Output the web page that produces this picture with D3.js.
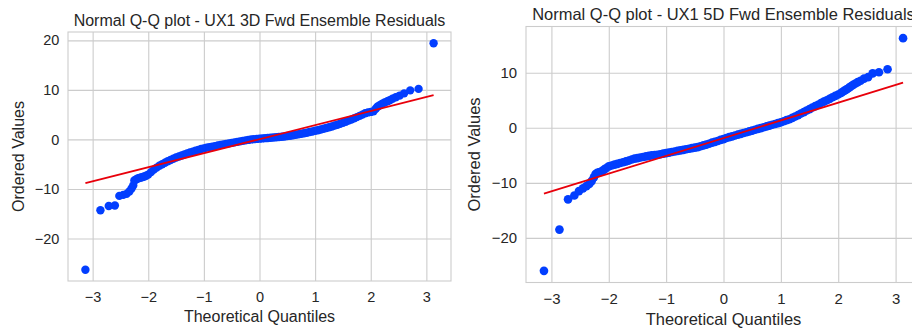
<!DOCTYPE html>
<html>
<head>
<meta charset="utf-8">
<script src="https://cdn.jsdelivr.net/npm/d3@7"></script>
<style>
  body { margin: 0; background: #fff; }
  svg { display: block; }
</style>
</head>
<body>
<svg id="chart"></svg>
<script>
// values: [theoretical quantile, ordered value]
const points3d = [
  [-3.13,-26.3],[-2.86,-14.3],[-2.71,-13.45],[-2.60,-13.35],[-2.52,-11.4],[-2.45,-11.2],
  [-2.39,-11.0],[-2.34,-10.5],[-2.30,-9.9],[-2.27,-9.3],[-2.25,-8.3],[-2.22,-8.1],
  [-2.19,-7.9],[-2.16,-7.8],[-2.13,-7.7],[-2.10,-7.6],[-2.07,-7.5],[-2.04,-7.35],
  [-2.00,-7.1],[-1.95,-6.6],[-1.90,-6.1],[-1.85,-5.7],[-1.80,-5.3],[-1.75,-5.0],
  [-1.70,-4.7],[-1.65,-4.4],[-1.60,-4.15],[-1.55,-3.9],[-1.50,-3.65],[-1.45,-3.45],
  [-1.40,-3.25],[-1.35,-3.05],[-1.30,-2.85],[-1.25,-2.65],[-1.20,-2.5],[-1.15,-2.3],
  [-1.10,-2.15],[-1.05,-1.95],[-1.00,-1.8],[-0.95,-1.65],[-0.90,-1.55],[-0.85,-1.45],
  [-0.80,-1.35],[-0.75,-1.2],[-0.70,-1.1],[-0.65,-1.0],[-0.60,-0.9],[-0.55,-0.8],
  [-0.50,-0.7],[-0.45,-0.6],[-0.40,-0.5],[-0.35,-0.4],[-0.30,-0.3],[-0.25,-0.2],
  [-0.20,-0.1],[-0.15,0.0],[-0.10,0.05],[-0.05,0.1],[0.00,0.15],[0.05,0.2],
  [0.10,0.25],[0.15,0.3],[0.20,0.35],[0.25,0.4],[0.30,0.45],[0.35,0.5],
  [0.40,0.55],[0.45,0.6],[0.50,0.7],[0.55,0.75],[0.60,0.85],[0.65,0.95],
  [0.70,1.05],[0.75,1.15],[0.80,1.25],[0.85,1.35],[0.90,1.5],[0.95,1.6],
  [1.00,1.75],[1.05,1.85],[1.10,2.0],[1.15,2.15],[1.20,2.3],[1.25,2.45],
  [1.30,2.6],[1.35,2.8],[1.40,2.95],[1.45,3.15],[1.50,3.35],[1.55,3.55],
  [1.60,3.8],[1.65,4.0],[1.70,4.25],[1.75,4.5],[1.80,4.75],[1.85,5.0],
  [1.90,5.3],[1.95,5.45],[2.00,5.55],[2.05,5.7],[2.09,6.2],[2.12,6.6],
  [2.15,6.8],[2.18,7.0],[2.21,7.2],[2.25,7.45],[2.30,7.7],[2.34,7.9],
  [2.39,8.2],[2.45,8.5],[2.52,8.85],[2.60,9.3],[2.71,9.9],[2.86,10.2],[3.13,19.4]
];

const points5d = [
  [-3.13,-26.0],[-2.86,-18.5],[-2.71,-13.0],[-2.60,-12.3],[-2.52,-11.5],[-2.45,-11.0],
  [-2.39,-10.6],[-2.34,-10.2],[-2.30,-9.7],[-2.26,-9.0],[-2.23,-8.4],[-2.20,-8.2],
  [-2.17,-8.1],[-2.14,-8.0],[-2.11,-7.8],[-2.08,-7.6],[-2.05,-7.35],[-2.00,-7.0],
  [-1.95,-6.85],[-1.90,-6.7],[-1.85,-6.55],[-1.80,-6.4],[-1.75,-6.25],[-1.70,-6.1],
  [-1.65,-5.95],[-1.60,-5.75],[-1.55,-5.6],[-1.50,-5.5],[-1.45,-5.4],[-1.40,-5.3],
  [-1.35,-5.2],[-1.30,-5.1],[-1.25,-5.0],[-1.20,-4.95],[-1.15,-4.9],[-1.10,-4.8],
  [-1.05,-4.7],[-1.00,-4.6],[-0.95,-4.5],[-0.90,-4.4],[-0.85,-4.3],[-0.80,-4.2],
  [-0.75,-4.1],[-0.70,-4.0],[-0.65,-3.9],[-0.60,-3.8],[-0.55,-3.7],[-0.50,-3.6],
  [-0.45,-3.5],[-0.40,-3.35],[-0.35,-3.2],[-0.30,-3.05],[-0.25,-2.9],[-0.20,-2.7],
  [-0.15,-2.55],[-0.10,-2.4],[-0.05,-2.2],[0.00,-2.05],[0.05,-1.85],[0.10,-1.7],
  [0.15,-1.55],[0.20,-1.4],[0.25,-1.25],[0.30,-1.1],[0.35,-0.95],[0.40,-0.8],
  [0.45,-0.65],[0.50,-0.5],[0.55,-0.35],[0.60,-0.2],[0.65,-0.05],[0.70,0.1],
  [0.75,0.25],[0.80,0.4],[0.85,0.55],[0.90,0.7],[0.95,0.85],[1.00,1.0],
  [1.05,1.2],[1.10,1.4],[1.15,1.55],[1.20,1.8],[1.25,2.05],[1.30,2.3],
  [1.35,2.6],[1.40,2.85],[1.45,3.15],[1.50,3.4],[1.55,3.7],[1.60,3.95],
  [1.65,4.2],[1.70,4.5],[1.75,4.75],[1.80,5.0],[1.85,5.25],[1.90,5.55],
  [1.95,5.8],[2.00,6.05],[2.05,6.35],[2.08,6.55],[2.11,6.75],[2.14,6.95],
  [2.17,7.15],[2.20,7.4],[2.23,7.6],[2.26,7.8],[2.30,8.05],[2.34,8.3],
  [2.39,8.55],[2.45,8.95],[2.52,9.2],[2.60,9.9],[2.71,10.1],[2.86,10.65],[3.13,16.3]
];

// least squares lines [slope, intercept]
const fit3d = [2.84, 0.05];
const fit5d = [3.22, -1.87];

const xTicks = [-3, -2, -1, 0, 1, 2, 3];
const yTicks3d = [-20, -10, 0, 10, 20];
const yTicks5d = [-20, -10, 0, 10];

const title3d = "Normal Q-Q plot - UX1 3D Fwd Ensemble Residuals";
const title5d = "Normal Q-Q plot - UX1 5D Fwd Ensemble Residuals";
const xLabel = "Theoretical Quantiles";
const yLabel = "Ordered Values";

const width = 912, height = 331;
const font = "'Liberation Sans', Arial, Helvetica, sans-serif";
const textColor = "#262626";
const gridColor = "#cccccc";
const dotColor = "#023eff";
const lineColor = "#e8000b";

const svg = d3.select("#chart")
  .attr("width", width)
  .attr("height", height)
  .style("font-family", font);

svg.append("rect").attr("width", width).attr("height", height).attr("fill", "#fff");

//matplotlib style 5% margin on both ends
function padded(ext) {
  const m = (ext[1] - ext[0]) * 0.05;
  return [ext[0] - m, ext[1] + m];
}

function drawPanel(p) {
  const k = p.k;
  const g = svg.append("g");
  const right = p.left + p.width, bottom = p.top + p.height;

  const x = d3.scaleLinear()
    .domain(padded(d3.extent(p.points, d => d[0])))
    .range([p.left, right]);
  const y = d3.scaleLinear()
    .domain(padded(d3.extent(p.points, d => d[1])))
    .range([bottom, p.top]);

  //grid via axes
  const xAxis = g.append("g")
    .attr("transform", `translate(0,${bottom})`)
    .call(d3.axisBottom(x).tickValues(xTicks).tickFormat(d3.format("d"))
      .tickSize(-p.height).tickPadding(10.5 * k));
  const yAxis = g.append("g")
    .attr("transform", `translate(${p.left},0)`)
    .call(d3.axisLeft(y).tickValues(p.yTicks).tickFormat(d3.format("d"))
      .tickSize(-p.width).tickPadding(8.7 * k));

  [xAxis, yAxis].forEach(a => {
    a.select(".domain").remove();
    a.selectAll(".tick line").attr("stroke", gridColor).attr("stroke-width", 1.1);
    a.selectAll(".tick text")
      .attr("fill", textColor)
      .attr("font-family", font)
      .attr("font-size", 14.5 * k);
  });

  //spines
  g.append("rect")
    .attr("x", p.left).attr("y", p.top)
    .attr("width", p.width).attr("height", p.height)
    .attr("fill", "none").attr("stroke", gridColor).attr("stroke-width", 1.1);

  g.append("g").selectAll("circle")
    .data(p.points)
    .join("circle")
    .attr("cx", d => x(d[0]))
    .attr("cy", d => y(d[1]))
    .attr("r", 4.2 * k)
    .attr("fill", dotColor);

  const qExt = d3.extent(p.points, d => d[0]);
  g.append("line")
    .attr("x1", x(qExt[0])).attr("y1", y(p.fit[0] * qExt[0] + p.fit[1]))
    .attr("x2", x(qExt[1])).attr("y2", y(p.fit[0] * qExt[1] + p.fit[1]))
    .attr("stroke", lineColor)
    .attr("stroke-width", 1.8 * k);

  g.append("text")
    .attr("x", (p.left + right) / 2)
    .attr("y", p.top - 6 * k)
    .attr("text-anchor", "middle")
    .attr("font-size", 16 * k)
    .attr("fill", textColor)
    .text(p.title);

  g.append("text")
    .attr("x", (p.left + right) / 2)
    .attr("y", bottom + 41 * k)
    .attr("text-anchor", "middle")
    .attr("font-size", 16 * k)
    .attr("fill", textColor)
    .text(xLabel);

  g.append("text")
    .attr("transform", `translate(${p.left - 44.5 * k},${(p.top + bottom) / 2}) rotate(-90)`)
    .attr("text-anchor", "middle")
    .attr("font-size", 16 * k)
    .attr("fill", textColor)
    .text(yLabel);
}

drawPanel({points: points3d, fit: fit3d, yTicks: yTicks3d, title: title3d,
  left: 68, top: 32, width: 383, height: 249, k: 1});
drawPanel({points: points5d, fit: fit5d, yTicks: yTicks5d, title: title5d,
  left: 526, top: 26.5, width: 395, height: 256, k: 1.03});
</script>
</body>
</html>
